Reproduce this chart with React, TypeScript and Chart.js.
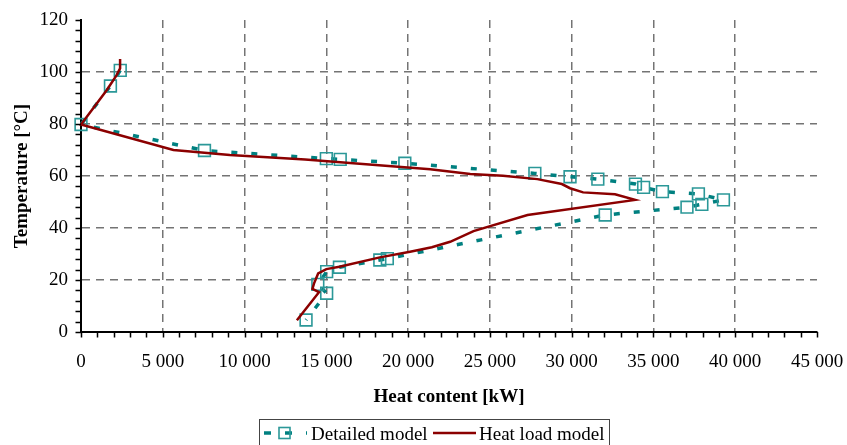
import React, { useEffect, useRef } from 'react';
import { Chart, registerables } from 'chart.js';

Chart.register(...registerables);

// ---- Data ----
const seriesNames = ['Detailed model', 'Heat load model'];

// Detailed model (teal, dashed with square markers)
const detailedHeat = [
  2400, 1800, 0, 7550, 15000, 15850, 19800, 27750, 29900, 31600, 33900, 34400,
  35550, 37750, 39280, 37960, 37050, 32050, 18730, 18270, 15800, 15020, 14480,
  15020, 13760,
];
const detailedTemp = [
  100.6, 94.6, 79.8, 69.8, 66.7, 66.4, 64.9, 61, 59.7, 58.8, 56.9, 55.6,
  54, 53.1, 50.8, 49.1, 48, 45, 28.2, 27.7, 24.9, 23.2, 18.3,
  14.9, 4.6,
];

// Heat load model (dark red, solid)
const heatLoadHeat = [
  2390, 2390, 2180, 1570, 0, 5650, 9100, 13700, 21350, 23800, 25800, 27900,
  29400, 29900, 30700, 32650, 33880, 27300, 24000, 22570, 21450, 20120, 18270,
  15800, 15000, 14500, 14250, 14150, 14550, 13200,
];
const heatLoadTemp = [
  105, 101.4, 98.8, 93, 79.8, 70, 68.1, 66.3, 62.6, 60.8, 60.1, 58.8,
  56.9, 55.3, 53.7, 53, 50.8, 45, 38.8, 34.7, 32.6, 30.9, 28.7,
  25.1, 24.2, 22.5, 18.7, 16.6, 15.3, 4.5,
];

// Axis ticks
const xTickValues = [0, 5000, 10000, 15000, 20000, 25000, 30000, 35000, 40000, 45000];
const xTickLabels = ['0', '5 000', '10 000', '15 000', '20 000', '25 000', '30 000', '35 000', '40 000', '45 000'];
const yTickValues = [0, 20, 40, 60, 80, 100, 120];
const yTickLabels = ['0', '20', '40', '60', '80', '100', '120'];
const xMinorStep = 1000;
const yMinorStep = 4;

const xTitle = 'Heat content [kW]';
const yTitle = 'Temperature [°C]';

const FONT = "'Liberation Serif', 'Times New Roman', serif";
const TEAL = '#008080';
const TEAL_MARK = '#2b9898';
const RED = '#8b0000';
const GRID = '#747474';

const tickMarksPlugin = {
  id: 'tickMarks',
  afterDraw(chart: any) {
    const { ctx, chartArea } = chart;
    const xs = chart.scales.x;
    const ys = chart.scales.y;
    ctx.save();
    ctx.strokeStyle = '#000';
    ctx.lineWidth = 1.5;
    ctx.beginPath();
    for (let v = xs.min; v <= xs.max + 0.001; v += xMinorStep) {
      const px = Math.round(xs.getPixelForValue(v)) + 0.5;
      ctx.moveTo(px, chartArea.bottom);
      ctx.lineTo(px, chartArea.bottom + 5.5);
    }
    for (let v = ys.min; v <= ys.max + 0.001; v += yMinorStep) {
      const py = Math.round(ys.getPixelForValue(v)) + 0.5;
      ctx.moveTo(chartArea.left - 5.5, py);
      ctx.lineTo(chartArea.left, py);
    }
    ctx.stroke();
    ctx.restore();
  },
};

const legendPlugin = {
  id: 'boxLegend',
  afterDraw(chart: any) {
    const { ctx } = chart;
    ctx.save();
    // frame
    ctx.strokeStyle = '#444';
    ctx.lineWidth = 1;
    ctx.strokeRect(259.5, 419.5, 350, 40);
    const cy = 433;
    // detailed model sample
    ctx.strokeStyle = TEAL;
    ctx.lineWidth = 3.5;
    ctx.setLineDash([7, 14]);
    ctx.beginPath();
    ctx.moveTo(264, cy);
    ctx.lineTo(307, cy);
    ctx.stroke();
    ctx.setLineDash([]);
    ctx.strokeStyle = TEAL_MARK;
    ctx.lineWidth = 1.6;
    ctx.strokeRect(279, 427.5, 11, 11);
    // heat load sample
    ctx.strokeStyle = RED;
    ctx.lineWidth = 2.5;
    ctx.beginPath();
    ctx.moveTo(433, cy);
    ctx.lineTo(476, cy);
    ctx.stroke();
    // texts
    ctx.fillStyle = '#000';
    ctx.font = `19px ${FONT}`;
    ctx.textBaseline = 'alphabetic';
    ctx.textAlign = 'left';
    ctx.fillText(seriesNames[0], 311, 439.5);
    ctx.fillText(seriesNames[1], 479, 439.5);
    ctx.restore();
  },
};

export default function App() {
  const canvasRef = useRef<HTMLCanvasElement | null>(null);

  useEffect(() => {
    if (!canvasRef.current) return;
    Chart.defaults.color = '#000';
    const chart = new Chart(canvasRef.current, {
      type: 'line',
      data: {
        datasets: [
          {
            label: seriesNames[0],
            data: detailedHeat.map((x, i) => ({ x, y: detailedTemp[i] })),
            borderColor: TEAL,
            borderWidth: 3.5,
            borderDash: [6, 14],
            pointStyle: 'rect',
            pointRadius: 8.3,
            pointBorderColor: TEAL_MARK,
            pointBorderWidth: 1.6,
            pointBackgroundColor: 'rgba(0,0,0,0)',
            fill: false,
            tension: 0,
            clip: false as any,
            order: 2,
          },
          {
            label: seriesNames[1],
            data: heatLoadHeat.map((x, i) => ({ x, y: heatLoadTemp[i] })),
            borderColor: RED,
            borderWidth: 2.5,
            pointRadius: 0,
            fill: false,
            tension: 0,
            clip: false as any,
            order: 1,
          },
        ],
      },
      options: {
        animation: false,
        responsive: false,
        devicePixelRatio: 1,
        layout: { padding: { left: 0, right: 30, top: 20, bottom: 30 } },
        plugins: {
          legend: { display: false },
          tooltip: { enabled: false },
        },
        scales: {
          x: {
            type: 'linear',
            min: 0,
            max: 45000,
            afterBuildTicks: (scale: any) => {
              scale.ticks = xTickValues.map((v) => ({ value: v }));
            },
            afterFit: (scale: any) => {
              scale.height = 83;
              scale.paddingLeft = 0;
              scale.paddingRight = 0;
              scale.paddingTop = 0;
              scale.paddingBottom = 0;
            },
            ticks: {
              autoSkip: false,
              maxRotation: 0,
              padding: 19,
              font: { family: FONT, size: 19 },
              color: '#000',
              callback: (_v: any, i: number) => xTickLabels[i],
            },
            grid: {
              drawTicks: false,
              lineWidth: 1.5,
              color: (c: any) =>
                c.tick && (c.tick.value === 0 || c.tick.value === 45000) ? 'rgba(0,0,0,0)' : GRID,
            },
            border: { display: true, color: '#000', width: 2, dash: [8, 6] },
            title: {
              display: true,
              text: xTitle,
              color: '#000',
              font: { family: FONT, size: 19, weight: 'bold' },
              padding: { top: 0, bottom: 6.6 },
            },
          },
          y: {
            type: 'linear',
            min: 0,
            max: 120,
            afterBuildTicks: (scale: any) => {
              scale.ticks = yTickValues.map((v) => ({ value: v }));
            },
            afterFit: (scale: any) => {
              scale.width = 81;
              scale.paddingLeft = 0;
              scale.paddingRight = 0;
              scale.paddingTop = 0;
              scale.paddingBottom = 0;
            },
            ticks: {
              padding: 13,
              font: { family: FONT, size: 19 },
              color: '#000',
              callback: (_v: any, i: number) => yTickLabels[i],
            },
            grid: {
              drawTicks: false,
              lineWidth: 1.5,
              color: (c: any) =>
                c.tick && (c.tick.value === 0 || c.tick.value === 120) ? 'rgba(0,0,0,0)' : GRID,
            },
            border: { display: true, color: '#000', width: 2, dash: [8, 6] },
            title: {
              display: true,
              text: yTitle,
              color: '#000',
              font: { family: FONT, size: 19, weight: 'bold' },
              padding: { top: 10.6, bottom: 0 },
            },
          },
        },
      } as any,
      plugins: [tickMarksPlugin, legendPlugin],
    });
    return () => chart.destroy();
  }, []);

  return (
    <div style={{ position: 'absolute', left: 0, top: 0, width: 847, height: 445, background: '#fff' }}>
      <canvas ref={canvasRef} width={847} height={445} style={{ width: 847, height: 445, display: 'block' }} />
    </div>
  );
}
